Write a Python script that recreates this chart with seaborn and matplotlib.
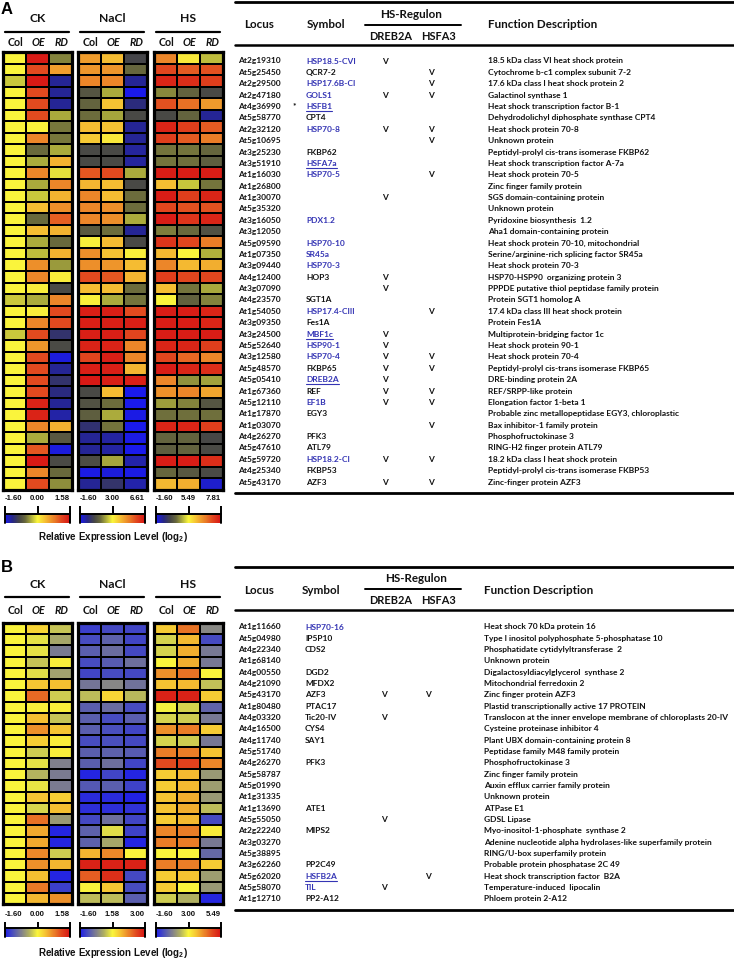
import numpy as np
import pandas as pd
import matplotlib
matplotlib.use("Agg")
import matplotlib.pyplot as plt
import seaborn as sns
from matplotlib.colors import LinearSegmentedColormap, TwoSlopeNorm
from matplotlib.cm import ScalarMappable

# ---------------- data: panel A ----------------
A_ck_col = [0.00, 0.00, -0.20, 0.00, 0.00, 0.00, 0.00, 0.00, 0.00, 0.00,
            0.00, 0.00, 0.00, 0.00, 0.00, 0.00, 0.00, 0.00, 0.00, 0.00,
            0.00, -0.20, 0.00, 0.00, -0.20, 0.00, 0.00, 0.00, 0.00, 0.00,
            0.00, 0.00, 0.00, 0.00, 0.00, 0.00, 0.00, 0.00]
A_ck_oe = [1.52, 1.14, 1.52, 1.14, 1.14, 1.14, 0.00, 0.76, -0.61, -0.32,
           0.76, -0.32, -0.20, 0.38, -0.61, 0.38, -0.32, -0.25, 0.70, 0.76,
           0.05, -0.32, 0.05, 0.76, 1.14, 0.65, 1.14, 1.14, 1.14, 1.14,
           1.45, 1.45, 0.76, -0.32, 1.05, 1.52, 0.76, 1.14]
A_ck_rd = [-0.50, 0.60, -1.28, -1.28, -1.28, -0.32, -0.55, -0.55, -0.32, 0.45,
           -0.10, 0.76, 0.45, 0.70, 1.00, 0.45, -0.61, 0.45, -0.40, 0.05,
           -0.86, 0.76, 1.14, 1.14, -1.09, -0.86, -1.55, -1.28, -1.09, -1.20,
           -1.28, -1.35, 0.45, -0.75, -1.55, -0.86, -0.61, -0.45]
A_nacl_col = [4.40, 4.50, 4.73, 0.80, 1.10, 1.30, 3.90, 3.70, 0.52, 0.52,
              5.40, 4.00, 4.73, 4.73, 4.73, 0.90, 3.10, 4.60, 4.60, 5.60,
              3.90, 3.10, 6.40, 6.40, 6.40, 6.30, 5.70, 6.40, 6.50, 0.52,
              0.70, 1.00, -0.20, -0.70, -0.70, 0.60, -1.50, -0.70]
A_nacl_oe = [3.90, 4.50, 4.73, 2.10, 3.80, 2.00, 3.80, 3.20, 0.52, 0.52,
             5.60, 3.90, 3.90, 4.60, 4.60, 1.30, 3.90, 3.80, 4.50, 5.40,
             3.90, 2.10, 6.40, 6.40, 6.40, 6.30, 6.40, 6.40, 6.40, 3.90,
             1.30, 2.10, 1.40, -0.80, -0.80, 2.00, -1.40, -0.10]
A_nacl_rd = [0.40, 1.20, -0.68, -1.60, -0.40, 0.50, -0.68, -0.68, -0.75, -0.75,
             2.10, 0.50, 1.30, 1.30, 2.10, -0.70, 0.50, 3.10, 3.90, 4.00,
             1.30, 1.40, 5.60, 6.40, 5.70, 4.73, 4.73, 4.00, 6.40, -1.60,
             -1.60, -1.50, -1.60, -1.50, -1.60, -0.90, -1.50, -0.90]
A_hs_col = [6.60, 7.20, 7.60, 3.40, 7.10, 1.66, 7.60, 7.30, 3.00, 3.00,
            7.70, 6.05, 7.70, 7.20, 7.70, 3.20, 7.40, 6.10, 6.60, 7.30,
            6.05, 5.49, 7.70, 7.70, 7.70, 7.60, 7.20, 7.70, 6.60, 6.50,
            3.80, 2.90, 7.60, 2.60, 2.40, 7.70, 2.70, 6.10]
A_hs_oe = [5.60, 7.00, 7.50, 2.60, 6.80, 2.60, 7.30, 7.00, 3.00, 2.90,
           7.70, 4.60, 7.30, 7.10, 7.40, 2.80, 7.20, 5.50, 6.10, 7.20,
           3.00, 2.50, 7.70, 7.70, 7.70, 7.60, 6.90, 7.60, 3.60, 6.60,
           3.30, 2.90, 7.60, 2.60, 2.60, 7.70, 2.20, 6.20]
A_hs_rd = [4.40, 7.10, 7.30, 1.66, 6.40, -0.20, 7.00, 6.70, 2.70, 2.40,
           7.70, 3.00, 7.60, 7.10, 7.60, 1.90, 6.70, 4.20, 6.20, 7.20,
           4.00, 3.30, 7.60, 7.60, 7.70, 7.30, 6.60, 7.50, 3.90, 6.30,
           2.10, 2.90, 7.30, 1.60, 1.70, 7.50, 1.70, -1.10]

A_locus = ["At2g19310", "At5g25450", "At2g29500", "At2g47180", "At4g36990", "At5g58770",
           "At2g32120", "At5g10695", "At3g25230", "At3g51910", "At1g16030", "At1g26800",
           "At1g30070", "At5g35320", "At3g16050", "At3g12050", "At5g09590", "At1g07350",
           "At3g09440", "At4g12400", "At3g07090", "At4g23570", "At1g54050", "At3g09350",
           "At3g24500", "At5g52640", "At3g12580", "At5g48570", "At5g05410", "At1g67360",
           "At5g12110", "At1g17870", "At1g03070", "At4g26270", "At5g47610", "At5g59720",
           "At4g25340", "At5g43170"]
A_symbol = ["HSP18.5-CVI", "QCR7-2", "HSP17.6B-CI", "GOLS1", "HSFB1", "CPT4",
            "HSP70-8", "", "FKBP62", "HSFA7a", "HSP70-5", "",
            "", "", "PDX1.2", "", "HSP70-10", "SR45a",
            "HSP70-3", "HOP3", "", "SGT1A", "HSP17.4-CIII", "Fes1A",
            "MBF1c", "HSP90-1", "HSP70-4", "FKBP65", "DREB2A", "REF",
            "EF1B", "EGY3", "", "PFK3", "ATL79", "HSP18.2-CI",
            "FKBP53", "AZF3"]
A_blue = [1, 0, 1, 1, 1, 0, 1, 0, 0, 1, 1, 0, 0, 0, 1, 0, 1, 1, 1, 0,
          0, 0, 1, 0, 1, 1, 1, 0, 1, 0, 1, 0, 0, 0, 0, 1, 0, 0]
A_underline = ["HSFB1", "HSFA7a", "MBF1c", "DREB2A"]
A_dreb2a = [1, 0, 0, 1, 0, 0, 1, 0, 0, 0, 0, 0, 1, 0, 0, 0, 0, 0, 0, 1,
            1, 0, 0, 0, 1, 1, 1, 1, 1, 1, 1, 0, 0, 0, 0, 1, 0, 1]
A_hsfa3 = [0, 1, 1, 1, 0, 0, 1, 1, 0, 0, 1, 0, 0, 0, 0, 0, 0, 0, 0, 0,
           0, 0, 1, 0, 0, 0, 1, 1, 0, 1, 1, 0, 1, 0, 0, 1, 0, 1]
A_desc = ["18.5 kDa class VI heat shock protein",
          "Cytochrome b-c1 complex subunit 7-2",
          "17.6 kDa class I heat shock protein 2",
          "Galactinol synthase 1",
          "Heat shock transcription factor B-1",
          "Dehydrodolichyl diphosphate synthase CPT4",
          "Heat shock protein 70-8",
          "Unknown protein",
          "Peptidyl-prolyl cis-trans isomerase FKBP62",
          "Heat shock transcription factor A-7a",
          "Heat shock protein 70-5",
          "Zinc finger family protein",
          "SGS domain-containing protein",
          "Unknown protein",
          "Pyridoxine biosynthesis  1.2",
          "Aha1 domain-containing protein",
          "Heat shock protein 70-10, mitochondrial",
          "Serine/arginine-rich splicing factor SR45a",
          "Heat shock protein 70-3",
          "HSP70-HSP90  organizing protein 3",
          "PPPDE putative thiol peptidase family protein",
          "Protein SGT1 homolog A",
          "17.4 kDa class III heat shock protein",
          "Protein Fes1A",
          "Multiprotein-bridging factor 1c",
          "Heat shock protein 90-1",
          "Heat shock protein 70-4",
          "Peptidyl-prolyl cis-trans isomerase FKBP65",
          "DRE-binding protein 2A",
          "REF/SRPP-like protein",
          "Elongation factor 1-beta 1",
          "Probable zinc metallopeptidase EGY3, chloroplastic",
          "Bax inhibitor-1 family protein",
          "Phosphofructokinase 3",
          "RING-H2 finger protein ATL79",
          "18.2 kDa class I heat shock protein",
          "Peptidyl-prolyl cis-trans isomerase FKBP53",
          "Zinc-finger protein AZF3"]
A_star = "At4g36990"

# ---------------- data: panel B ----------------
B_ck_col = [0.00] * 25
B_ck_oe = [0.25, -0.12, -0.12, -0.30, -0.15, 0.35, 0.95, 0.05, 0.40, 0.70,
           0.30, -0.25, -0.12, -0.40, -0.10, 0.35, -0.20, 0.90, 0.55, 0.55,
           0.75, 0.70, 0.40, 0.85, 0.45]
B_ck_rd = [-0.30, -0.50, -0.85, 0.05, -0.55, 0.40, -0.25, 0.05, -0.30, 0.35,
           0.05, 0.05, -0.80, -0.85, -0.85, 0.30, 0.40, -0.60, -1.55, -1.55,
           -0.25, 0.45, -1.55, -1.35, 0.70]
B_nacl_col = [-1.10, -0.90, -0.60, -0.90, -1.00, -0.20, 0.90, -0.60, -0.60, -0.60,
              -0.90, -0.60, -0.60, -1.50, -0.70, -1.40, -1.35, -0.95, -0.55, -0.55,
              2.00, 2.90, 2.50, 1.60, 0.90]
B_nacl_oe = [-0.95, -0.55, -0.35, -0.65, -0.90, 0.10, 1.80, -0.35, -0.90, -0.85,
             -0.85, -0.55, -0.30, -1.00, -0.60, -1.40, -1.35, -0.30, 1.30, 0.60,
             2.25, 2.90, 2.80, 1.90, 0.90]
B_nacl_rd = [-1.00, -1.00, -0.95, -0.30, -0.95, -0.25, 0.85, -0.90, -0.60, -1.00,
             -0.95, -0.65, -1.00, -1.50, -1.05, -1.55, -1.30, -1.00, -1.05, -1.50,
             1.60, 2.90, -0.95, -0.90, -0.60]
B_hs_col = [3.50, 2.40, 2.40, 3.00, 4.10, 3.60, 5.30, 2.90, 2.40, 4.10,
            2.40, 4.30, 4.80, 3.50, 3.50, 3.60, 3.60, 3.50, 4.20, 4.30,
            3.00, 4.30, 3.50, 3.50, 2.30]
B_hs_oe = [4.40, 3.70, 3.80, 3.80, 4.40, 3.70, 5.30, 2.40, 2.30, 4.30,
           2.30, 4.30, 4.90, 3.70, 3.70, 3.80, 3.80, 3.70, 4.30, 4.30,
           3.00, 4.30, 3.60, 3.00, 1.80]
B_hs_rd = [0.90, -0.60, 0.50, 0.50, 3.00, 2.10, 3.50, 0.00, 0.50, 3.50,
           0.50, 3.60, 4.20, 1.30, 1.40, 1.30, 2.00, -0.60, 3.10, 0.55,
           0.10, 3.50, 1.40, 1.30, -1.40]

B_locus = ["At1g11660", "At5g04980", "At4g22340", "At1g68140", "At4g00550", "At4g21090",
           "At5g43170", "At1g80480", "At4g03320", "At4g16500", "At4g11740", "At5g51740",
           "At4g26270", "At5g58787", "At5g01990", "At1g31335", "At1g13690", "At5g55050",
           "At2g22240", "At3g03270", "At5g38895", "At3g62260", "At5g62020", "At5g58070",
           "At1g12710"]
B_symbol = ["HSP70-16", "IP5P10", "CDS2", "", "DGD2", "MFDX2", "AZF3", "PTAC17",
            "Tic20-IV", "CYS4", "SAY1", "", "PFK3", "", "", "", "ATE1", "",
            "MIPS2", "", "", "PP2C49", "HSFB2A", "TIL", "PP2-A12"]
B_blue = [1, 0, 0, 0, 0, 0, 0, 0, 0, 0, 0, 0, 0, 0, 0, 0, 0, 0, 0, 0, 0, 0, 1, 1, 0]
B_underline = ["HSFB2A"]
B_dreb2a = [0, 0, 0, 0, 0, 0, 1, 0, 1, 0, 0, 0, 0, 0, 0, 0, 0, 1, 0, 0, 0, 0, 0, 1, 0]
B_hsfa3 = [0, 0, 0, 0, 0, 0, 1, 0, 0, 0, 0, 0, 0, 0, 0, 0, 0, 0, 0, 0, 0, 0, 1, 0, 0]
B_desc = ["Heat shock 70 kDa protein 16",
          "Type I inositol polyphosphate 5-phosphatase 10",
          "Phosphatidate cytidylyltransferase  2",
          "Unknown protein",
          "Digalactosyldiacylglycerol  synthase 2",
          "Mitochondrial ferredoxin 2",
          "Zinc finger protein AZF3",
          "Plastid transcriptionally active 17 PROTEIN",
          "Translocon at the inner envelope membrane of chloroplasts 20-IV",
          "Cysteine proteinase inhibitor 4",
          "Plant UBX domain-containing protein 8",
          "Peptidase family M48 family protein",
          "Phosphofructokinase 3",
          "Zinc finger family protein",
          "Auxin efflux carrier family protein",
          "Unknown protein",
          "ATPase E1",
          "GDSL Lipase",
          "Myo-inositol-1-phosphate  synthase 2",
          "Adenine nucleotide alpha hydrolases-like superfamily protein",
          "RING/U-box superfamily protein",
          "Probable protein phosphatase 2C 49",
          "Heat shock transcription factor  B2A",
          "Temperature-induced  lipocalin",
          "Phloem protein 2-A12"]

genotypes = ["Col", "OE", "RD"]
conditions = ["CK", "NaCl", "HS"]
A_scale = {"CK": (-1.60, 0.00, 1.58), "NaCl": (-1.60, 3.00, 6.61), "HS": (-1.60, 5.49, 7.81)}
B_scale = {"CK": (-1.60, 0.00, 1.58), "NaCl": (-1.60, 1.58, 3.00), "HS": (-1.60, 3.00, 5.49)}

# ---------------- style ----------------
W, H = 734, 959
sns.set_theme(style="white")
plt.rcParams["font.family"] = ["Lato", "DejaVu Sans"]
plt.rcParams["mathtext.fontset"] = "custom"
plt.rcParams["mathtext.rm"] = "Liberation Sans:bold"
plt.rcParams["mathtext.bf"] = "Liberation Sans:bold"

cmap_A = LinearSegmentedColormap.from_list("cmA", [
    (0.00, "#1a1aeb"), (0.12, "#282882"), (0.22, "#464646"), (0.31, "#69693c"),
    (0.40, "#abab3c"), (0.50, "#faf53c"), (0.62, "#f5be32"), (0.75, "#eb8228"),
    (0.87, "#e1461e"), (1.00, "#d71414")])
cmap_B = LinearSegmentedColormap.from_list("cmB", [
    (0.00, "#1e1ee6"), (0.12, "#4b50bc"), (0.25, "#80808c"), (0.37, "#b0b060"),
    (0.50, "#faf53c"), (0.62, "#f5c332"), (0.75, "#eb8228"), (0.87, "#e1461e"),
    (1.00, "#d71414")])

BLUE = "#3434b4"
TXT = "#111111"
fig = plt.figure(figsize=(W / 100, H / 100), dpi=100)
ov = fig.add_axes([0, 0, 1, 1])
ov.set_xlim(0, W)
ov.set_ylim(H, 0)
ov.axis("off")


def px_axes(x0, y0, x1, y1):
    return fig.add_axes([x0 / W, 1 - y1 / H, (x1 - x0) / W, (y1 - y0) / H])


blocks_x = {"CK": (3, 72), "NaCl": (78, 147), "HS": (154, 223)}


def draw_heat_panel(letter, data, scale, cmap, y_top, y_bot, hdr_y, line_y, geno_y,
                    cb_y0, cb_y1, rel_y, letter_y, tick_len):
    ov.text(1, letter_y, letter, fontsize=12, fontweight="bold", family="Liberation Sans",
            va="center", ha="left", color="black")
    for cond in conditions:
        x0, x1 = blocks_x[cond]
        vmin, vc, vmax = scale[cond]
        norm = TwoSlopeNorm(vcenter=vc, vmin=vmin, vmax=vmax)
        df = pd.DataFrame({g: data[cond][i] for i, g in enumerate(genotypes)})
        ax = px_axes(x0, y_top, x1, y_bot)
        sns.heatmap(df, ax=ax, cmap=cmap, norm=norm, cbar=False, linewidths=1.3,
                    linecolor="black", xticklabels=False, yticklabels=False)
        for s in ax.spines.values():
            s.set_visible(True)
            s.set_linewidth(2.3)
            s.set_color("black")
        cx = (x0 + x1) / 2
        ov.text(cx, hdr_y, cond, fontsize=8.7, fontweight="bold", ha="center", va="center",
                color=TXT)
        ov.plot([x0 + 2, x1 - 3], [line_y, line_y], color="black", lw=1.6)
        cw = (x1 - x0) / 3
        for k, g in enumerate(genotypes):
            ov.text(x0 + (k + 0.5) * cw + 1, geno_y, g, fontsize=7.7, fontweight="bold",
                    style=("normal" if g == "Col" else "italic"), ha="center",
                    va="center", color=TXT)
        # colorbar
        cax = px_axes(x0 + 2, cb_y0, x1 - 2, cb_y1)
        cb = fig.colorbar(ScalarMappable(norm=norm, cmap=cmap), cax=cax,
                          orientation="horizontal")
        cb.set_ticks([vmin, vc, vmax])
        cb.set_ticklabels([f"{v:.2f}" for v in (vmin, vc, vmax)])
        cb.outline.set_visible(False)
        cax.xaxis.set_ticks_position("top")
        cax.tick_params(axis="x", direction="out", length=tick_len, width=1.4,
                        color="black", labelsize=5.6, pad=3.5, labelcolor=TXT)
        labs = cax.get_xticklabels()
        for j, t in enumerate(labs):
            t.set_family("Liberation Sans")
            t.set_fontweight("bold")
            t.set_horizontalalignment(["left", "center", "right"][j])
        cax.plot([0, 1], [1, 1], transform=cax.transAxes, color="black", lw=1.4,
                 clip_on=False)
        for xe in (0, 1):
            cax.plot([xe, xe], [0, 1], transform=cax.transAxes, color="black", lw=1.4,
                     clip_on=False)
    ov.text(113, rel_y, r"Relative Expression Level (log$_{2}$)", fontsize=7,
            fontweight="bold", family="Liberation Sans", ha="center", va="center",
            color=TXT)


def draw_table(locus, symbol, blue, underline, dreb, hsfa3, desc, top_y, hsreg_y,
               ul_y, hdr_y, sub_y, line2_y, row0, step, bot_y, xs, star=None):
    x_loc, x_sym, x_dreb, x_hsf, x_desc, c_loc, c_sym, c_reg, c_dreb, c_hsf = xs
    ov.plot([235, W], [top_y, top_y], color="black", lw=2.0)
    ov.plot([235, W], [line2_y, line2_y], color="black", lw=1.8)
    ov.plot([365, 461], [ul_y, ul_y], color="black", lw=1.4)
    hk = dict(fontsize=8.4, fontweight="bold", va="center", color=TXT)
    sk = dict(fontsize=7.9, fontweight="bold", va="center", color=TXT)
    ov.text(c_loc, hdr_y, "Locus", ha="center", **hk)
    ov.text(c_sym, hdr_y, "Symbol", ha="center", **hk)
    ov.text(c_reg, hsreg_y, "HS-Regulon", ha="center", **hk)
    ov.text(c_dreb, sub_y, "DREB2A", ha="center", **sk)
    ov.text(c_hsf, sub_y, "HSFA3", ha="center", **sk)
    ov.text(x_desc, hdr_y, "Function Description", ha="left", **hk)
    rk = dict(fontsize=6.05, fontweight="bold", va="center")
    renderer = fig.canvas.get_renderer()
    inv = ov.transData.inverted()
    for i in range(len(locus)):
        y = row0 + i * step
        ov.text(x_loc, y, locus[i], ha="left", color=TXT, **rk)
        if star is not None and locus[i] == star:
            ov.text(x_loc + 55, y - 1, "*", ha="left", color=TXT, **rk)
        if symbol[i]:
            col = BLUE if blue[i] else TXT
            t = ov.text(x_sym, y, symbol[i], ha="left", color=col, **rk)
            if symbol[i] in underline:
                bb = t.get_window_extent(renderer)
                (xa, ya), (xb, yb) = inv.transform([[bb.x0, bb.y0], [bb.x1, bb.y1]])
                ov.plot([xa, xb], [y + 4.4, y + 4.4], color=col, lw=0.8)
        if dreb[i]:
            ov.text(x_dreb, y, "V", ha="center", color=TXT, **rk)
        if hsfa3[i]:
            ov.text(x_hsf, y, "V", ha="center", color=TXT, **rk)
        ov.text(x_desc, y, desc[i], ha="left", color=TXT, **rk)
    ov.plot([235, W], [bot_y, bot_y], color="black", lw=2.0)


A_data = {"CK": [A_ck_col, A_ck_oe, A_ck_rd],
          "NaCl": [A_nacl_col, A_nacl_oe, A_nacl_rd],
          "HS": [A_hs_col, A_hs_oe, A_hs_rd]}
B_data = {"CK": [B_ck_col, B_ck_oe, B_ck_rd],
          "NaCl": [B_nacl_col, B_nacl_oe, B_nacl_rd],
          "HS": [B_hs_col, B_hs_oe, B_hs_rd]}

draw_heat_panel("A", A_data, A_scale, cmap_A, 52, 490, 19, 32, 43,
                514, 523, 537, 10, 5.5)
draw_heat_panel("B", B_data, B_scale, cmap_B, 623, 904, 584, 597, 610,
                928, 937, 953, 568, 4.0)

draw_table(A_locus, A_symbol, A_blue, A_underline, A_dreb2a, A_hsfa3, A_desc,
           2, 15, 24.5, 25, 36, 45, 61, 11.38, 493,
           (238, 306, 385, 431, 488, 259, 326, 411, 391, 439), star=A_star)
draw_table(B_locus, B_symbol, B_blue, B_underline, B_dreb2a, B_hsfa3, B_desc,
           567, 579, 589, 590, 600, 610, 627, 11.33, 910,
           (238, 305, 384, 428, 484, 259, 321, 416, 391, 439))

fig.savefig("out.png", dpi=100)
